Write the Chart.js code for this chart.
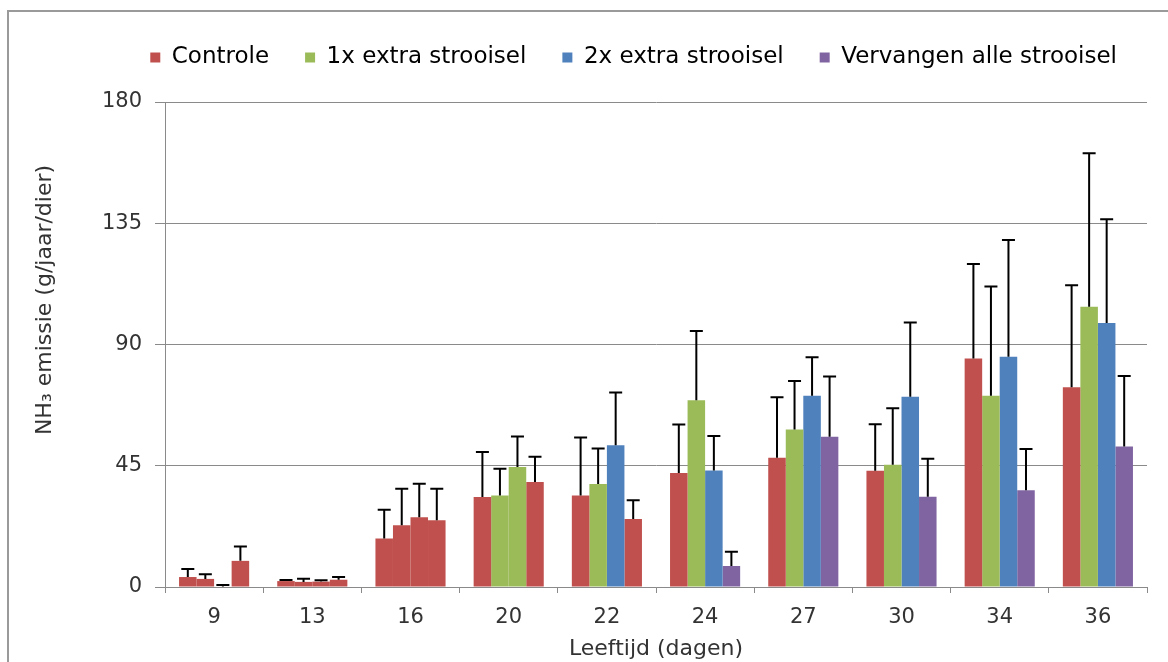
<!DOCTYPE html>
<html>
<head>
<meta charset="utf-8">
<script src="https://cdn.jsdelivr.net/npm/chart.js@4.4.1/dist/chart.umd.min.js"></script>
<style>
  html, body { margin: 0; padding: 0; background: #ffffff; overflow: hidden; }
  #wrap { position: relative; width: 1168px; height: 662px; }
  #c { display: block; }
  #frame { position: absolute; left: 7px; top: 10px; width: 1300px; height: 800px;
           border-left: 2px solid #9a9a9a; border-top: 2px solid #9a9a9a; pointer-events: none; }
</style>
</head>
<body>
<div id="wrap">
  <canvas id="c" width="1168" height="662"></canvas>
  <div id="frame"></div>
</div>
<script>
// ---- data ----
const categories = ['9', '13', '16', '20', '22', '24', '27', '30', '34', '36'];
const seriesNames = ['Controle', '1x extra strooisel', '2x extra strooisel', 'Vervangen alle strooisel'];

const controle       = [3.7, 2.2, 18.0, 33.4, 34.0, 42.3, 48.0, 43.1, 84.8, 74.1];
const extra1         = [3.0, 1.9, 22.9, 34.0, 38.2, 69.3, 58.5, 45.4, 71.0, 104.0];
const extra2         = [0.2, 2.0, 25.9, 44.5, 52.6, 43.2, 71.0, 70.6, 85.5, 98.0];
const vervangen      = [9.7, 2.7, 24.8, 39.0, 25.2, 7.8, 55.8, 33.5, 35.9, 52.1];

// upper ends of the error bars
const controleUpper  = [6.7, 2.6, 28.7, 50.1, 55.5, 60.3, 70.4, 60.4, 119.9, 112.0];
const extra1Upper    = [4.7, 3.1, 36.5, 43.9, 51.4, 95.0, 76.5, 66.3, 111.5, 161.0];
const extra2Upper    = [0.7, 2.5, 38.3, 55.9, 72.2, 56.0, 85.3, 98.2, 128.8, 136.5];
const vervangenUpper = [15.0, 3.7, 36.5, 48.3, 32.2, 13.1, 78.1, 47.6, 51.2, 78.3];

const yTicks = [0, 45, 90, 135, 180];

// ---- styles ----
const RED = '#C0504D', GREEN = '#9BBB59', BLUE = '#4F81BD', PURPLE = '#8064A2';
const seriesColors = [RED, GREEN, BLUE, PURPLE];
// per-bar colours as they appear in the reference
const controleColors  = [RED, RED, RED, RED, RED, RED, RED, RED, RED, RED];
const extra1Colors    = [RED, RED, RED, GREEN, GREEN, GREEN, GREEN, GREEN, GREEN, GREEN];
const extra2Colors    = [RED, RED, RED, GREEN, BLUE, BLUE, BLUE, BLUE, BLUE, BLUE];
const vervangenColors = [RED, RED, RED, RED, RED, PURPLE, PURPLE, PURPLE, PURPLE, PURPLE];

const TEXT = '#333333';
const GRID = '#8a8a8a';
const FONT = "'DejaVu Sans', Verdana, sans-serif";

const seriesValues = [controle, extra1, extra2, vervangen];
const seriesUpper = [controleUpper, extra1Upper, extra2Upper, vervangenUpper];
const seriesBarColors = [controleColors, extra1Colors, extra2Colors, vervangenColors];

const errorBars = {
  id: 'errorBars',
  afterDatasetsDraw(chart) {
    const ctx = chart.ctx;
    const y = chart.scales.y;
    ctx.save();
    ctx.strokeStyle = '#000000';
    ctx.lineWidth = 2;
    chart.data.datasets.forEach((ds, i) => {
      const meta = chart.getDatasetMeta(i);
      meta.data.forEach((bar, j) => {
        const up = seriesUpper[i][j];
        if (up == null) return;
        const yv = y.getPixelForValue(ds.data[j]);
        const yu = y.getPixelForValue(up);
        ctx.beginPath();
        ctx.moveTo(bar.x, yv);
        ctx.lineTo(bar.x, yu);
        ctx.moveTo(bar.x - 6.5, yu);
        ctx.lineTo(bar.x + 6.5, yu);
        ctx.stroke();
      });
    });
    ctx.restore();
  }
};

// keeps the legend band tall enough so the plot starts where the reference's does,
// and moves the y-axis title up to where it sits in the reference
const layoutTweaks = {
  id: 'layoutTweaks',
  beforeLayout(chart) {
    const lg = chart.legend;
    if (lg && !lg._fitPatched) {
      const origFit = lg.fit;
      lg.fit = function () { origFit.call(this); this.height = 92; };
      lg._fitPatched = true;
    }
  },
  afterLayout(chart) {
    const s = chart.scales.y;
    if (s._titlePatched) return;
    const orig = s.drawTitle;
    s.drawTitle = function () {
      const t = this.top;
      this.top = t - 89;
      orig.call(this);
      this.top = t;
    };
    s._titlePatched = true;
  }
};

new Chart(document.getElementById('c'), {
  type: 'bar',
  data: {
    labels: categories,
    datasets: seriesNames.map((name, i) => ({
      label: name,
      data: seriesValues[i],
      backgroundColor: seriesBarColors[i],
      borderWidth: 0,
      categoryPercentage: 0.714,
      barPercentage: 1.0
    }))
  },
  options: {
    responsive: false,
    maintainAspectRatio: false,
    animation: false,
    devicePixelRatio: 1,
    layout: { padding: { left: 0, right: 15, top: 10, bottom: 0 } },
    plugins: {
      tooltip: { enabled: false },
      legend: {
        position: 'top',
        align: 'end',
        labels: {
          boxWidth: 10,
          boxHeight: 10,
          padding: 36,
          color: TEXT,
          font: { family: FONT, size: 23 },
          generateLabels: () => seriesNames.map((name, i) => ({
            text: name,
            fillStyle: seriesColors[i],
            strokeStyle: seriesColors[i],
            lineWidth: 0,
            hidden: false,
            datasetIndex: i
          }))
        }
      }
    },
    scales: {
      x: {
        offset: true,
        grid: { display: true, drawOnChartArea: false, drawTicks: true, tickLength: 6, color: GRID, offset: true },
        border: { display: true, color: GRID, width: 1 },
        ticks: { color: TEXT, font: { family: FONT, size: 21 }, padding: 12, maxRotation: 0 },
        title: { display: true, text: 'Leeftijd (dagen)', color: TEXT, font: { family: FONT, size: 22 }, padding: { top: 0, bottom: 0 } },
        afterFit(scale) { scale.height = 75; scale.paddingRight = 21; }
      },
      y: {
        min: 0,
        max: 180,
        afterBuildTicks(scale) { scale.ticks = yTicks.map(v => ({ value: v })); },
        grid: { color: GRID, lineWidth: 1, drawTicks: true, tickLength: 10 },
        border: { display: true, color: GRID, width: 1 },
        ticks: { color: TEXT, font: { family: FONT, size: 21 }, padding: 13 },
        title: { display: true, text: 'NH\u2083 emissie (g/jaar/dier)', color: TEXT, font: { family: FONT, size: 22 }, padding: { top: 32, bottom: 0 } },
        afterFit(scale) { scale.width = 165; }
      }
    }
  },
  plugins: [errorBars, layoutTweaks]
});
</script>
</body>
</html>
